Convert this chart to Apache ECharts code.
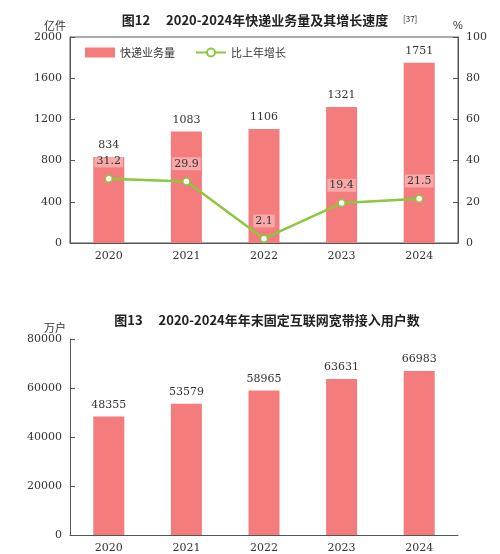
<!DOCTYPE html>
<html><head><meta charset="utf-8">
<script src="https://cdn.jsdelivr.net/npm/echarts@6/dist/echarts.min.js"></script>
<style>body{margin:0;background:#fff}#main{width:500px;height:554px}</style>
</head><body><div id="main"></div>
<script>
// 数据
const years = ['2020', '2021', '2022', '2023', '2024'];
const express = [834, 1083, 1106, 1321, 1751];
const growth = [31.2, 29.9, 2.1, 19.4, 21.5];
const broadband = [48355, 53579, 58965, 63631, 66983];

const barColor = '#f47c7c';
const serif = '"DejaVu Serif", "Liberation Serif", serif';
const cjk = '"Noto Sans CJK SC", sans-serif';
const axisTxt = {color: '#333', fontSize: 11, fontFamily: serif, formatter: v => String(v)};

const myChart = echarts.init(document.getElementById('main'));
const option = {
  animation: false,
  title: [
    {text: '图12\u3000 2020-2024年快递业务量及其增长速度', left: 250, top: 9, textAlign: 'center',
     textStyle: {fontSize: 13, fontWeight: 'bold', fontFamily: cjk, color: '#222'}},
    {text: '[37]', left: 398, top: 10, textStyle: {fontSize: 8, fontFamily: cjk, color: '#222', fontWeight: 'normal'}},
    {text: '图13\u3000 2020-2024年年末固定互联网宽带接入用户数', left: 262, top: 309, textAlign: 'center',
     textStyle: {fontSize: 13, fontWeight: 'bold', fontFamily: cjk, color: '#222'}}
  ],
  legend: {top: 42, left: 80, itemGap: 20, itemWidth: 30, itemHeight: 10,
    textStyle: {fontSize: 11, fontFamily: cjk, color: '#333'},
    data: [{name: '快递业务量', icon: 'rect'}, {name: '比上年增长'}]},
  grid: [
    {left: 70, right: 42, top: 37, bottom: 311, show: true, borderColor: '#555', borderWidth: 1},
    {left: 70, right: 42, top: 339, bottom: 14}
  ],
  xAxis: [
    {type: 'category', data: years, gridIndex: 0, axisTick: {show: false},
     axisLine: {lineStyle: {color: '#555'}}, axisLabel: axisTxt},
    {type: 'category', data: years, gridIndex: 1, axisTick: {show: false},
     axisLine: {lineStyle: {color: '#555'}}, axisLabel: axisTxt}
  ],
  yAxis: [
    {type: 'value', gridIndex: 0, min: 0, max: 2000, interval: 400, name: '亿件',
     nameGap: 6, nameTextStyle: {fontFamily: cjk, fontSize: 11, color: '#333', align: 'right', padding: [0, 4, 0, 0]},
     axisLine: {show: true, lineStyle: {color: '#555'}}, axisTick: {show: true, inside: true},
     splitLine: {show: false}, axisLabel: axisTxt},
    {type: 'value', gridIndex: 0, min: 0, max: 100, interval: 20, name: '%', position: 'right',
     nameGap: 6, nameTextStyle: {fontSize: 11, color: '#333'},
     axisLine: {show: true, lineStyle: {color: '#555'}}, axisTick: {show: true, inside: true},
     splitLine: {show: false}, axisLabel: axisTxt},
    {type: 'value', gridIndex: 1, min: 0, max: 80000, interval: 20000, name: '万户',
     nameGap: 6, nameTextStyle: {fontFamily: cjk, fontSize: 11, color: '#333', align: 'right', padding: [0, 4, 0, 0]},
     axisLine: {show: true, lineStyle: {color: '#555'}}, axisTick: {show: true, inside: true},
     splitLine: {show: false}, axisLabel: axisTxt}
  ],
  series: [
    {name: '快递业务量', type: 'bar', xAxisIndex: 0, yAxisIndex: 0, data: express, barWidth: 31,
     itemStyle: {color: barColor},
     label: {show: true, position: 'top', distance: 6, fontFamily: serif, fontSize: 11, color: '#333'}},
    {name: '比上年增长', type: 'line', xAxisIndex: 0, yAxisIndex: 1, data: growth,
     symbol: 'circle', symbolSize: 7, lineStyle: {color: '#8dc63f', width: 2.5},
     itemStyle: {color: '#fff', borderColor: '#8dc63f', borderWidth: 1.5},
     label: {show: true, position: 'top', distance: 7, fontFamily: serif, fontSize: 11, color: '#333',
       backgroundColor: 'rgba(255,255,255,0.35)', padding: [1, 2]}},
    {name: '宽带', type: 'bar', xAxisIndex: 1, yAxisIndex: 2, data: broadband, barWidth: 31,
     itemStyle: {color: barColor},
     label: {show: true, position: 'top', distance: 6, fontFamily: serif, fontSize: 11, color: '#333'}}
  ]
};
myChart.setOption(option);
</script></body></html>
